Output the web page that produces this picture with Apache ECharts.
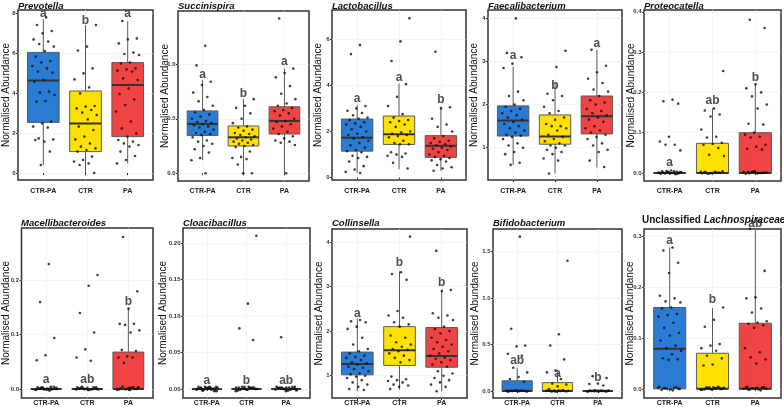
<!DOCTYPE html>
<html><head><meta charset="utf-8">
<script src="https://cdn.jsdelivr.net/npm/echarts@6/dist/echarts.min.js"></script>
<style>html,body{margin:0;padding:0;background:#fff}#c{width:784px;height:407px}</style>
</head><body><div id="c"></div>
<script>
const categories = ['CTR-PA', 'CTR', 'PA'];

// ---- Prevotella ----
const prevotellaStats = [[0.4, 2.53, 4.63, 6.03, 7.7], [0.0, 1.07, 2.48, 4.1, 7.4], [0.48, 1.82, 4.4, 5.52, 7.6]];
const prevotellaCtrPa = [7.78, 7.4, 7.1, 6.98, 6.68, 6.57, 6.45, 6.32, 6.1, 5.82, 5.6, 5.53, 5.35, 5.23, 5.07, 5.02, 4.65, 4.57, 4.07, 4.02, 3.9, 3.6, 3.57, 2.57, 2.48, 2.32, 2.27, 1.73, 1.68, 1.57, 1.65, 1.07, 0.4];
const prevotellaCtr = [7.4, 6.32, 6.12, 5.23, 4.98, 4.68, 4.28, 3.98, 3.35, 3.32, 3.23, 3.15, 3.02, 2.9, 2.68, 2.32, 2.15, 1.82, 1.68, 1.48, 1.32, 1.23, 1.15, 1.07, 0.82, 0.65, 0.57, 0.48, 0.4, 0.0];
const prevotellaPa = [7.6, 6.73, 6.68, 6.48, 6.02, 5.95, 5.9, 5.52, 5.48, 5.23, 5.18, 5.12, 5.07, 4.73, 4.65, 4.23, 3.95, 3.68, 3.4, 3.07, 2.57, 2.23, 1.98, 1.82, 1.65, 1.57, 1.48, 1.4, 1.32, 1.07, 0.85, 0.65, 0.48];
const prevotellaLetters = ['a', 'b', 'a'];
const prevotellaLetterY = [7.95, 7.6, 7.95];
const prevotellaTicks = [0, 2, 4, 6, 8];

// ---- Succinispira ----
const succinispiraStats = [[0.12, 0.346, 0.453, 0.572, 0.856], [0, 0.25, 0.33, 0.434, 0.68], [0, 0.36, 0.48, 0.61, 0.96]];
const succinispiraCtrPa = [1.17, 0.99, 0.84, 0.81, 0.74, 0.70, 0.66, 0.62, 0.58, 0.56, 0.54, 0.52, 0.50, 0.48, 0.47, 0.46, 0.45, 0.44, 0.43, 0.42, 0.40, 0.38, 0.37, 0.36, 0.35, 0.33, 0.30, 0.29, 0.27, 0.25, 0.22, 0.19, 0.14, 0.12, 0.0];
const succinispiraCtr = [0.68, 0.62, 0.60, 0.55, 0.50, 0.46, 0.43, 0.42, 0.40, 0.39, 0.37, 0.36, 0.35, 0.34, 0.33, 0.32, 0.31, 0.30, 0.29, 0.28, 0.27, 0.26, 0.25, 0.24, 0.20, 0.15, 0.14, 0.13, 0.08, 0.0, 0.0];
const succinispiraPa = [1.42, 0.96, 0.92, 0.88, 0.80, 0.73, 0.68, 0.64, 0.62, 0.60, 0.58, 0.57, 0.55, 0.53, 0.50, 0.48, 0.47, 0.45, 0.43, 0.41, 0.38, 0.36, 0.34, 0.32, 0.30, 0.29, 0.28, 0.26, 0.0];
const succinispiraLetters = ['a', 'b', 'a'];
const succinispiraLetterY = [0.9, 0.73, 1.02];
const succinispiraTicks = [0, 0.5, 1.0];

// ---- Lactobacillus ----
const lactobacillusStats = [[0.2, 1.15, 1.73, 2.54, 3.15], [0.37, 1.44, 1.88, 2.67, 4.08], [0.3, 0.88, 1.38, 1.82, 3.07]];
const lactobacillusCtrPa = [5.75, 5.35, 3.1, 3.0, 2.9, 2.8, 2.7, 2.6, 2.55, 2.5, 2.4, 2.35, 2.3, 2.2, 2.1, 2.0, 1.9, 1.85, 1.75, 1.7, 1.6, 1.5, 1.4, 1.3, 1.2, 1.15, 1.1, 0.95, 0.9, 0.85, 0.7, 0.5, 0.35, 0.25, 0.2];
const lactobacillusCtr = [6.9, 5.9, 5.05, 4.05, 3.5, 3.1, 2.75, 2.6, 2.5, 2.45, 2.4, 2.3, 2.2, 2.0, 1.95, 1.9, 1.85, 1.8, 1.75, 1.6, 1.5, 1.45, 1.45, 1.1, 1.05, 1.0, 0.95, 0.9, 0.65, 0.4];
const lactobacillusPa = [5.45, 3.05, 3.0, 2.55, 2.3, 2.2, 2.0, 1.8, 1.7, 1.6, 1.55, 1.5, 1.45, 1.4, 1.35, 1.3, 1.25, 1.2, 1.1, 1.0, 0.95, 0.9, 0.85, 0.8, 0.75, 0.7, 0.55, 0.45, 0.4, 0.3];
const lactobacillusLetters = ['a', 'a', 'b'];
const lactobacillusLetterY = [3.4, 4.34, 3.36];
const lactobacillusTicks = [0, 2, 4, 6];

// ---- Faecalibacterium ----
const faecalibacteriumStats = [[0.6, 1.27, 1.63, 1.97, 2.88], [0.4, 1.08, 1.26, 1.76, 2.5], [0.54, 1.32, 1.73, 2.2, 3.27]];
const faecalibacteriumCtrPa = [4.0, 3.2, 3.1, 2.95, 2.85, 2.3, 2.2, 2.1, 2.0, 1.95, 1.9, 1.85, 1.8, 1.75, 1.7, 1.65, 1.6, 1.55, 1.5, 1.45, 1.4, 1.35, 1.3, 1.28, 1.25, 1.2, 1.1, 1.05, 1.0, 0.9, 0.85, 0.65, 0.6];
const faecalibacteriumCtr = [3.25, 2.87, 2.25, 2.2, 2.1, 1.95, 1.85, 1.8, 1.7, 1.65, 1.55, 1.5, 1.5, 1.45, 1.4, 1.3, 1.25, 1.2, 1.15, 1.1, 1.05, 1.05, 1.0, 0.95, 0.9, 0.85, 0.75, 0.7, 0.4];
const faecalibacteriumPa = [3.27, 2.9, 2.75, 2.6, 2.5, 2.35, 2.3, 2.2, 2.1, 2.05, 2.0, 1.9, 1.85, 1.8, 1.75, 1.7, 1.65, 1.6, 1.5, 1.45, 1.4, 1.35, 1.3, 1.25, 1.2, 1.1, 1.05, 0.95, 0.9, 0.7, 0.55];
const faecalibacteriumLetters = ['a', 'b', 'a'];
const faecalibacteriumLetterY = [3.13, 2.45, 3.42];
const faecalibacteriumTicks = [1, 2, 3, 4];

// ---- Proteocatella ----
const proteocatellaStats = [[0, 0, 0, 0, 0], [0, 0, 0, 0.0736, 0.16], [0, 0, 0, 0.1, 0.22]];
const proteocatellaCtrPa = [0.182, 0.178, 0.172, 0.09, 0.078, 0.07, 0.07, 0.056, 0.006, 0.004, 0.003, 0.002, 0.001, 0, 0, 0, -0.001, -0.002, -0.003, 0.005, 0.002, 0, 0.001, -0.002, 0.003, 0, 0.004, -0.001, 0.002, 0];
const proteocatellaCtr = [0.253, 0.16, 0.155, 0.145, 0.14, 0.108, 0.09, 0.088, 0.075, 0.072, 0.07, 0.062, 0.045, 0.042, 0.003, 0.002, 0, 0, -0.001, 0.001, -0.002, 0.004, 0, 0.002, 0.001, -0.001, 0.003, 0];
const proteocatellaPa = [0.38, 0.36, 0.22, 0.21, 0.2, 0.19, 0.17, 0.16, 0.122, 0.12, 0.1, 0.095, 0.09, 0.088, 0.07, 0.065, 0.06, 0.058, 0.003, 0.002, 0, -0.001, 0.001, 0.004, -0.002, 0, 0.002, 0.001, -0.001, 0.003, 0, 0.002];
const proteocatellaLetters = ['a', 'ab', 'b'];
const proteocatellaLetterY = [0.026, 0.18, 0.237];
const proteocatellaTicks = [0, 0.1, 0.2, 0.3, 0.4];

// ---- Macellibacteroides ----
const macellibacteroidesStats = [[0, 0, 0, 0, 0], [0, 0, 0, 0, 0], [0, 0, 0, 0.068, 0.149]];
const macellibacteroidesCtrPa = [0.23, 0.16, 0.094, 0.062, 0.053, 0.004, 0.003, 0.002, 0.001, 0, 0, -0.001, -0.002, -0.003, 0.002, 0.001, 0, 0.003, -0.001, 0.002, 0, -0.002, 0.001, 0.004, 0, -0.001, 0.002, 0.001, 0];
const macellibacteroidesCtr = [0.21, 0.19, 0.14, 0.104, 0.073, 0.058, 0.052, 0.004, 0.003, 0.002, 0.001, 0, 0, -0.001, -0.002, 0.002, 0.001, 0, 0.003, -0.001, 0.002, 0, -0.002, 0.001, 0.003, 0, -0.001];
const macellibacteroidesPa = [0.28, 0.18, 0.148, 0.12, 0.12, 0.118, 0.108, 0.104, 0.072, 0.07, 0.06, 0.058, 0.058, 0.048, 0.003, 0.002, 0.001, 0, -0.001, -0.002, 0.002, 0.004, 0, 0.001, -0.001, 0.003, 0, 0.002, -0.002];
const macellibacteroidesLetters = ['a', 'ab', 'b'];
const macellibacteroidesLetterY = [0.018, 0.018, 0.16];
const macellibacteroidesTicks = [0, 0.1, 0.2];

// ---- Cloacibacillus ----
const cloacibacillusStats = [[0, 0, 0, 0, 0], [0, 0, 0, 0, 0], [0, 0, 0, 0, 0]];
const cloacibacillusCtrPa = [0.003, 0.002, 0.001, 0, 0, -0.001, -0.002, -0.003, 0.002, 0.001, 0, 0.003, -0.001, 0.002, 0, -0.002, 0.001, 0.003, 0, -0.001, 0.002, 0.001, 0, -0.003, 0.002, 0, 0.001, -0.002, 0.003, 0];
const cloacibacillusCtr = [0.21, 0.117, 0.083, 0.067, 0.003, 0.002, 0.001, 0, 0, -0.001, -0.002, 0.002, 0.001, 0, 0.003, -0.001, 0.002, 0, -0.002, 0.001, 0.003, 0, -0.001, 0.002, 0.001, 0, -0.003, 0.002];
const cloacibacillusPa = [0.071, 0.003, 0.002, 0.001, 0, 0, -0.001, -0.002, 0.002, 0.001, 0, 0.003, -0.001, 0.002, 0, -0.002, 0.001, 0.003, 0, -0.001, 0.002, 0.001, 0, -0.003, 0.002, 0, 0.001, -0.002];
const cloacibacillusLetters = ['a', 'b', 'ab'];
const cloacibacillusLetterY = [0.012, 0.012, 0.012];
const cloacibacillusTicks = [0, 0.05, 0.10, 0.15, 0.20];

// ---- Collinsella ----
const collinsellaStats = [[0.66, 1.02, 1.26, 1.53, 2.28], [0.69, 1.23, 1.57, 2.1, 3.34], [0.65, 1.19, 1.44, 2.08, 2.93]];
const collinsellaCtrPa = [2.25, 2.22, 2.2, 2.1, 2.05, 1.85, 1.7, 1.6, 1.55, 1.5, 1.45, 1.42, 1.4, 1.35, 1.3, 1.28, 1.25, 1.2, 1.18, 1.15, 1.1, 1.05, 1.03, 1.0, 0.98, 0.95, 0.9, 0.85, 0.8, 0.75, 0.7, 0.68];
const collinsellaCtr = [4.12, 3.32, 3.28, 3.15, 2.45, 2.35, 2.3, 2.2, 2.15, 2.1, 1.9, 1.85, 1.75, 1.7, 1.65, 1.6, 1.58, 1.55, 1.5, 1.45, 1.4, 1.35, 1.3, 0.98, 0.92, 0.9, 0.88, 0.85, 0.8, 0.78, 0.75, 0.7];
const collinsellaPa = [3.8, 2.92, 2.9, 2.4, 2.35, 2.3, 2.25, 2.1, 2.05, 2.0, 1.95, 1.85, 1.8, 1.75, 1.7, 1.65, 1.6, 1.55, 1.5, 1.45, 1.4, 1.38, 1.35, 1.3, 1.25, 1.2, 1.1, 1.05, 1.0, 0.95, 0.9, 0.85, 0.8, 0.75, 0.65];
const collinsellaLetters = ['a', 'b', 'b'];
const collinsellaLetterY = [2.4, 3.53, 3.09];
const collinsellaTicks = [1, 2, 3, 4];

// ---- Bifidobacterium ----
const bifidobacteriumStats = [[0, 0, 0, 0.11, 0.25], [0, 0, 0, 0.09, 0.21], [0, 0, 0, 0, 0]];
const bifidobacteriumCtrPa = [1.66, 0.67, 0.49, 0.48, 0.40, 0.38, 0.25, 0.2, 0.15, 0.13, 0.1, 0.008, 0.005, 0.003, 0, 0, -0.003, -0.005, 0.004, 0.002, 0, -0.002, 0.006, 0, 0.003, -0.004, 0.002, 0, -0.006, 0.004, 0.001];
const bifidobacteriumCtr = [1.4, 0.61, 0.49, 0.34, 0.22, 0.2, 0.13, 0.08, 0.07, 0.05, 0.02, 0.007, 0.004, 0.002, 0, 0, -0.003, -0.005, 0.004, 0.002, 0, -0.002, 0.006, 0, 0.003, -0.004, 0.002, 0, -0.006];
const bifidobacteriumPa = [0.16, 0.14, 0.08, 0.075, 0.06, 0.007, 0.004, 0.002, 0, 0, -0.003, -0.005, 0.004, 0.002, 0, -0.002, 0.006, 0, 0.003, -0.004, 0.002, 0, -0.006, 0.004, 0.001, 0, -0.002, 0.003];
const bifidobacteriumLetters = ['ab', 'a', 'b'];
const bifidobacteriumLetterY = [0.33, 0.19, 0.14];
const bifidobacteriumTicks = [0, 0.5, 1.0, 1.5];

// ---- Unclassified Lachnospiraceae ----
const lachnoStats = [[0, 0, 0.079, 0.16, 0.278], [0, 0, 0, 0.07, 0.159], [0, 0, 0, 0.129, 0.316]];
const lachnoCtrPa = [0.278, 0.272, 0.248, 0.228, 0.183, 0.178, 0.172, 0.17, 0.16, 0.158, 0.147, 0.145, 0.142, 0.13, 0.12, 0.11, 0.105, 0.095, 0.085, 0.08, 0.075, 0.068, 0.06, 0.058, 0.057, 0.004, 0.002, 0.001, 0, -0.001, -0.002, 0.003, 0, 0.002, -0.003, 0.001, 0];
const lachnoCtr = [0.16, 0.136, 0.122, 0.088, 0.085, 0.08, 0.075, 0.065, 0.06, 0.048, 0.046, 0.004, 0.003, 0.002, 0.001, 0, 0, -0.001, -0.002, 0.002, 0.001, 0, 0.003, -0.001, 0.002, 0, -0.002, 0.001, 0.003, 0, -0.001];
const lachnoPa = [0.315, 0.232, 0.18, 0.178, 0.158, 0.15, 0.133, 0.13, 0.128, 0.125, 0.12, 0.08, 0.072, 0.062, 0.058, 0.05, 0.004, 0.002, 0.001, 0, -0.001, -0.002, 0.003, 0, 0.002, -0.003, 0.001, 0, 0.002, -0.001, 0.003];
const lachnoLetters = ['a', 'b', 'ab'];
const lachnoLetterY = [0.291, 0.175, 0.325];
const lachnoTicks = [0, 0.1, 0.2, 0.3];

const panels = [
  { title: 'Prevotella', stats: prevotellaStats, pts: [prevotellaCtrPa, prevotellaCtr, prevotellaPa], letters: prevotellaLetters, letterY: prevotellaLetterY, ticks: prevotellaTicks, dec: 0 },
  { title: 'Succinispira', stats: succinispiraStats, pts: [succinispiraCtrPa, succinispiraCtr, succinispiraPa], letters: succinispiraLetters, letterY: succinispiraLetterY, ticks: succinispiraTicks, dec: 1 },
  { title: 'Lactobacillus', stats: lactobacillusStats, pts: [lactobacillusCtrPa, lactobacillusCtr, lactobacillusPa], letters: lactobacillusLetters, letterY: lactobacillusLetterY, ticks: lactobacillusTicks, dec: 0 },
  { title: 'Faecalibacterium', stats: faecalibacteriumStats, pts: [faecalibacteriumCtrPa, faecalibacteriumCtr, faecalibacteriumPa], letters: faecalibacteriumLetters, letterY: faecalibacteriumLetterY, ticks: faecalibacteriumTicks, dec: 0 },
  { title: 'Proteocatella', stats: proteocatellaStats, pts: [proteocatellaCtrPa, proteocatellaCtr, proteocatellaPa], letters: proteocatellaLetters, letterY: proteocatellaLetterY, ticks: proteocatellaTicks, dec: 1 },
  { title: 'Macellibacteroides', stats: macellibacteroidesStats, pts: [macellibacteroidesCtrPa, macellibacteroidesCtr, macellibacteroidesPa], letters: macellibacteroidesLetters, letterY: macellibacteroidesLetterY, ticks: macellibacteroidesTicks, dec: 1 },
  { title: 'Cloacibacillus', stats: cloacibacillusStats, pts: [cloacibacillusCtrPa, cloacibacillusCtr, cloacibacillusPa], letters: cloacibacillusLetters, letterY: cloacibacillusLetterY, ticks: cloacibacillusTicks, dec: 2 },
  { title: 'Collinsella', stats: collinsellaStats, pts: [collinsellaCtrPa, collinsellaCtr, collinsellaPa], letters: collinsellaLetters, letterY: collinsellaLetterY, ticks: collinsellaTicks, dec: 0 },
  { title: 'Bifidobacterium', stats: bifidobacteriumStats, pts: [bifidobacteriumCtrPa, bifidobacteriumCtr, bifidobacteriumPa], letters: bifidobacteriumLetters, letterY: bifidobacteriumLetterY, ticks: bifidobacteriumTicks, dec: 1 },
  { title: 'Unclassified Lachnospiraceae', stats: lachnoStats, pts: [lachnoCtrPa, lachnoCtr, lachnoPa], letters: lachnoLetters, letterY: lachnoLetterY, ticks: lachnoTicks, dec: 1 }
];

// ---- layout (pixels) and axis ranges ----
const layout = [
  { l: 18, t: 10, r: 153, b: 180, ymin: -0.35, ymax: 8.15, gap: 7, tt: 1, xm: 8 },
  { l: 178, t: 11, r: 309, b: 181, ymin: -0.071, ymax: 1.489, gap: 7.5, tt: 1, xm: 7 },
  { l: 332, t: 10, r: 466, b: 180, ymin: -0.1, ymax: 7.26, gap: 8.5, tt: 1, xm: 8 },
  { l: 488, t: 10, r: 622, b: 180, ymin: 0.25, ymax: 4.195, gap: 9, tt: 1, xm: 8 },
  { l: 644, t: 10, r: 781, b: 181, ymin: -0.02, ymax: 0.4045, gap: 8, tt: 1, xm: 7 },
  { l: 21, t: 228, r: 153, b: 398, ymin: -0.0166, ymax: 0.2965, gap: 10.5, tt: 218, xm: 2 },
  { l: 183, t: 228, r: 310, b: 398, ymin: -0.0124, ymax: 0.2207, gap: 15, tt: 218, xm: 2 },
  { l: 332, t: 229, r: 467, b: 398, ymin: 0.5, ymax: 4.29, gap: 8, tt: 218, xm: 2 },
  { l: 493, t: 229, r: 622, b: 398, ymin: -0.075, ymax: 1.742, gap: 13, tt: 218, xm: 2 },
  { l: 644, t: 229, r: 781, b: 398, ymin: -0.018, ymax: 0.3144, gap: 8.5, tt: 215, xm: 2 }
];

const fills = ['#2a7bd3', '#ffe100', '#f04343'];
const FONT = '"Liberation Sans", Arial, sans-serif';

function jit(i) { return (((i + 1) * 0.6180339887) % 1 - 0.5) * 0.56; }

function renderBox(params, api) {
  const g = api.value(0);
  const lo = api.coord([g, api.value(1)]);
  const q1 = api.coord([g, api.value(2)]);
  const md = api.coord([g, api.value(3)]);
  const q3 = api.coord([g, api.value(4)]);
  const hi = api.coord([g, api.value(5)]);
  const w = api.size([0.75, 0])[0];
  const x0 = lo[0] - w / 2;
  return {
    type: 'group', children: [
      { type: 'line', shape: { x1: hi[0], y1: hi[1], x2: q3[0], y2: q3[1] }, style: { stroke: '#5a5a5a', lineWidth: 1 } },
      { type: 'line', shape: { x1: q1[0], y1: q1[1], x2: lo[0], y2: lo[1] }, style: { stroke: '#5a5a5a', lineWidth: 1 } },
      { type: 'rect', shape: { x: x0, y: q3[1], width: w, height: q1[1] - q3[1] }, style: { fill: fills[g - 1], stroke: '#5a5a5a', lineWidth: 1 } },
      { type: 'line', shape: { x1: x0, y1: md[1], x2: x0 + w, y2: md[1] }, style: { stroke: '#333', lineWidth: 2 } }
    ]
  };
}

const grid = [], xAxis = [], yAxis = [], series = [], title = [];
panels.forEach((p, k) => {
  const L = layout[k];
  grid.push({ left: L.l, top: L.t, width: L.r - L.l, height: L.b - L.t, show: true, borderColor: '#333', borderWidth: 1.5, backgroundColor: '#fff' });
  xAxis.push({
    gridIndex: k, type: 'value', min: 0.4, max: 3.6,
    axisLine: { show: false },
    axisTick: { show: true, customValues: [1, 2, 3], length: 2, lineStyle: { color: '#333' } },
    axisLabel: { customValues: [1, 2, 3], formatter: v => categories[Math.round(v) - 1], fontSize: 7, fontWeight: 'bold', color: '#222', margin: L.xm, fontFamily: FONT },
    splitLine: { show: true, lineStyle: { color: '#efefef', width: 0.6 } }
  });
  yAxis.push({
    gridIndex: k, type: 'value', min: L.ymin, max: L.ymax,
    name: 'Normalised Abundance', nameLocation: 'middle', nameGap: L.gap, nameRotate: 90, nameMoveOverlap: false,
    nameTextStyle: { fontSize: 10, color: '#111', fontFamily: FONT },
    axisLine: { show: false },
    axisTick: { show: true, customValues: p.ticks, length: 2, lineStyle: { color: '#333' } },
    axisLabel: { customValues: p.ticks, formatter: v => v.toFixed(p.dec), fontSize: 6, fontWeight: 'bold', color: '#333', margin: 2.5, fontFamily: FONT },
    splitLine: { show: true, lineStyle: { color: '#efefef', width: 0.6 } }
  });
  if (k === 9) {
    title.push({ left: L.l - 2, top: L.tt, padding: 0, text: '{n|Unclassified }{i|Lachnospiraceae}',
      textStyle: { rich: { n: { fontSize: 10, fontWeight: 'bold', color: '#111', fontFamily: FONT }, i: { fontSize: 10, fontWeight: 'bold', fontStyle: 'italic', color: '#111', fontFamily: FONT } } } });
  } else {
    title.push({ left: L.l, top: L.tt, padding: 0, text: p.title, textStyle: { fontSize: 9.5, fontWeight: 'bold', fontStyle: 'italic', color: '#111', fontFamily: FONT } });
  }
  series.push({
    type: 'custom', xAxisIndex: k, yAxisIndex: k, renderItem: renderBox, z: 2, silent: true,
    encode: { x: 0, y: [1, 2, 3, 4, 5] },
    data: p.stats.map((s, g) => [g + 1].concat(s))
  });
  const pts = [];
  p.pts.forEach((arr, g) => arr.forEach((v, i) => pts.push([g + 1 + jit(i + g * 7), v])));
  series.push({ type: 'scatter', xAxisIndex: k, yAxisIndex: k, data: pts, symbolSize: 2.6, itemStyle: { color: '#111' }, z: 3, silent: true, clip: false });
  series.push({
    type: 'scatter', xAxisIndex: k, yAxisIndex: k, symbolSize: 1, itemStyle: { color: 'rgba(0,0,0,0)' }, z: 4, silent: true, clip: false,
    data: p.letters.map((t, g) => ({ name: t, value: [g + 1, p.letterY[g]] })),
    label: { show: true, position: 'inside', formatter: '{b}', fontSize: 12, fontWeight: 'bold', color: '#222', fontFamily: FONT }
  });
});

const chart = echarts.init(document.getElementById('c'), null, { renderer: 'canvas' });
chart.setOption({ animation: false, backgroundColor: '#fff', title, grid, xAxis, yAxis, series });
</script>
</body></html>
